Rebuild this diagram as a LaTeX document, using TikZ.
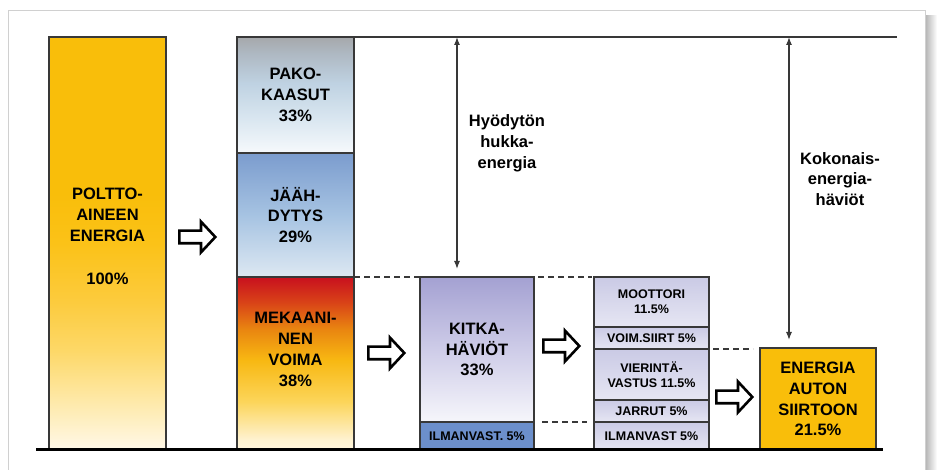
\documentclass[tikz,border=0pt]{standalone}
\usepackage{fontspec}
\setmainfont{Liberation Sans}
\usetikzlibrary{arrows.meta, positioning, shapes.arrows}

\definecolor{fuelYellow}{HTML}{F9BE0A}
\definecolor{boxLine}{HTML}{383838}
\definecolor{airBlue}{HTML}{6C8FCB}
\definecolor{subTop}{HTML}{CACAE5}
\definecolor{subBottom}{HTML}{E6E6F3}
\definecolor{frameGray}{HTML}{D0D0D0}
% shading stops
\definecolor{fuelA}{HTML}{FFF8E8}
\definecolor{fuelB}{HTML}{FEE9A8}
\definecolor{fuelC}{HTML}{FDD868}
\definecolor{fuelD}{HTML}{FCCB3D}
\definecolor{fuelE}{HTML}{FBC218}
\definecolor{mechA}{HTML}{FFF6DE}
\definecolor{mechB}{HTML}{FEF2D0}
\definecolor{mechC}{HTML}{FCD55A}
\definecolor{mechD}{HTML}{F8B812}
\definecolor{mechE}{HTML}{E98510}
\definecolor{mechF}{HTML}{D84018}
\definecolor{mechG}{HTML}{C8101E}
\definecolor{exhA}{HTML}{F6F9FC}
\definecolor{exhB}{HTML}{D9E6F0}
\definecolor{exhC}{HTML}{BFD2E2}
\definecolor{exhD}{HTML}{AEB8C2}
\definecolor{exhE}{HTML}{A6A8AB}
\definecolor{coolA}{HTML}{DDE8F2}
\definecolor{coolB}{HTML}{A6C3E2}
\definecolor{coolC}{HTML}{7B9CCE}
\definecolor{fricA}{HTML}{F6F6FB}
\definecolor{fricB}{HTML}{CECCE8}
\definecolor{fricC}{HTML}{A4A1D2}

\pgfdeclareverticalshading{fuelShade}{100bp}{%
  color(0bp)=(fuelA); color(25bp)=(fuelA); color(31bp)=(fuelB); color(37bp)=(fuelC);
  color(43bp)=(fuelD); color(50bp)=(fuelE); color(56bp)=(fuelYellow); color(100bp)=(fuelYellow)}
\pgfdeclareverticalshading{mechShade}{100bp}{%
  color(0bp)=(mechA); color(25bp)=(mechA); color(28bp)=(mechB); color(39bp)=(mechC);
  color(51bp)=(mechD); color(60bp)=(mechE); color(68bp)=(mechF); color(75bp)=(mechG);
  color(100bp)=(mechG)}
\pgfdeclareverticalshading{exhaustShade}{100bp}{%
  color(0bp)=(exhA); color(25bp)=(exhA); color(40bp)=(exhB); color(55bp)=(exhC);
  color(68bp)=(exhD); color(75bp)=(exhE); color(100bp)=(exhE)}
\pgfdeclareverticalshading{coolShade}{100bp}{%
  color(0bp)=(coolA); color(25bp)=(coolA); color(50bp)=(coolB); color(75bp)=(coolC);
  color(100bp)=(coolC)}
\pgfdeclareverticalshading{frictionShade}{100bp}{%
  color(0bp)=(fricA); color(25bp)=(fricA); color(50bp)=(fricB); color(75bp)=(fricC);
  color(100bp)=(fricC)}

\newcommand{\labelBig}{\fontsize{16.5}{20.8}\selectfont\bfseries}
\newcommand{\labelSmall}{\fontsize{12.5}{15}\selectfont\bfseries}

\tikzstyle{barBox} = [draw=boxLine, line width=1.6pt, inner sep=0pt, outer sep=0pt,
   align=center, font=\labelBig]
\tikzstyle{subBox} = [barBox, top color=subTop, bottom color=subBottom,
   minimum width=115pt, font=\labelSmall]
\tikzstyle{blockArrow} = [single arrow, draw=black, fill=white, line width=2.6pt,
   minimum height=36pt, inner xsep=0pt, inner ysep=5pt, single arrow head extend=9pt,
   single arrow tip angle=94, anchor=tail]
\tikzstyle{dimArrow} = [draw=boxLine, line width=1.2pt,
   {Latex[length=8pt,width=6pt]}-{Latex[length=8pt,width=6pt]}, shorten >=8pt]
\tikzstyle{dashLink} = [draw=boxLine, line width=1.5pt, dash pattern=on 6pt off 4pt]

\begin{document}
\begin{tikzpicture}[x=1pt, y=-1pt]
  \useasboundingbox (0,0) rectangle (938,470);

  % frame with shadow
  \fill[left color=gray!55, right color=white] (926,16) rectangle (937,470);
  \draw[frameGray, line width=1pt] (8,470) |- (925,11) -- (925,470);

  % fuel energy
  \node[barBox, shading=fuelShade, minimum width=117pt, minimum height=413pt,
    anchor=north west] (fuel) at (49,37) {};
  \node[font=\labelBig, align=center] (fuelText) at ([yshift=7pt]fuel.center)
    {POLTTO-\\AINEEN\\ENERGIA\\[23pt]100\%};

  % engine split
  \node[barBox, shading=exhaustShade, minimum width=117pt, minimum height=116pt,
    anchor=north west] (exhaust) at (237,37) {PAKO-\\KAASUT\\33\%};
  \node[barBox, shading=coolShade, minimum width=117pt, minimum height=124pt,
    below=0pt of exhaust] (cool) {JÄÄH-\\DYTYS\\29\%};
  \node[barBox, shading=mechShade, minimum width=117pt, minimum height=173pt,
    below=0pt of cool] (mech) {};
  \node[font=\labelBig, align=center] (mechText) at ([yshift=14pt]mech.center)
    {MEKAANI-\\NEN\\VOIMA\\38\%};

  % friction losses
  \node[barBox, shading=frictionShade, minimum width=114pt, minimum height=145pt,
    anchor=north west] (friction) at (420,277) {KITKA-\\HÄVIÖT\\33\%};
  \node[barBox, fill=airBlue, minimum width=114pt, minimum height=28pt,
    below=0pt of friction, font=\labelSmall] (frictionAir) {ILMANVAST. 5\%};

  % loss details
  \node[subBox, minimum height=50pt, anchor=north west] (motor) at (594,277) {MOOTTORI\\11.5\%};
  \node[subBox, minimum height=22pt, below=0pt of motor] (drive) {VOIM.SIIRT 5\%};
  \node[subBox, minimum height=51pt, below=0pt of drive] (roll) {VIERINTÄ-\\VASTUS 11.5\%};
  \node[subBox, minimum height=22pt, below=0pt of roll] (brake) {JARRUT 5\%};
  \node[subBox, minimum height=28pt, below=0pt of brake] (air) {ILMANVAST 5\%};

  % useful energy
  \node[barBox, fill=fuelYellow, minimum width=116pt, minimum height=102pt,
    anchor=north west] (useful) at (760,348) {ENERGIA\\AUTON\\SIIRTOON\\21.5\%};

  % flow arrows
  \node[blockArrow] (flowA) at (178,237) {};
  \node[blockArrow] (flowB) at (367,353) {};
  \node[blockArrow] (flowC) at (542,346) {};
  \node[blockArrow] (flowD) at (715,397) {};

  % top rule and base line
  \coordinate (ruleEnd) at (897,37);
  \draw[boxLine, line width=1.5pt] (exhaust.north west) -- (ruleEnd);
  \coordinate (baseStart) at (36,450);
  \coordinate (baseEnd) at (883,450);
  \draw[black, line width=3pt] (baseStart) -- (baseEnd);

  % level links
  \draw[dashLink] (cool.south east) -- (friction.north west);
  \draw[dashLink, shorten <=4pt, shorten >=2pt] (friction.north east) -- (motor.north west);
  \draw[dashLink, shorten <=8pt, shorten >=7pt] (frictionAir.north east) -- (air.north west);
  \draw[dashLink, shorten <=4pt, shorten >=7pt] (drive.south east) -- (drive.south east -| useful.west);

  % loss measures
  \coordinate (lossTop) at (457,37);
  \draw[dimArrow] (lossTop) -- (lossTop |- friction.north);
  \node[font=\labelBig, align=center] (lossText) at (507,143) {Hyödytön\\hukka-\\energia};
  \coordinate (totalTop) at (789,37);
  \draw[dimArrow] (totalTop) -- (totalTop |- useful.north);
  \node[font=\labelBig, align=center] (totalText) at (840,179) {Kokonais-\\energia-\\häviöt};
\end{tikzpicture}
\end{document}
